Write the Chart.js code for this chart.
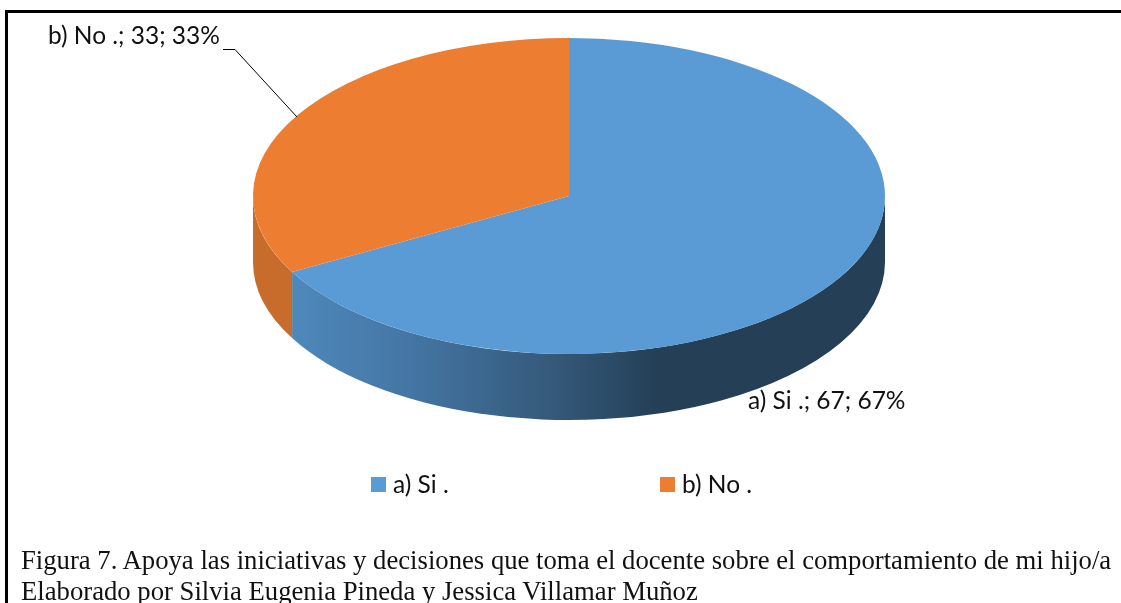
<!DOCTYPE html>
<html>
<head>
<meta charset="utf-8">
<title>Figura 7</title>
<script src="https://cdn.jsdelivr.net/npm/chart.js@4"></script>
<style>
  html, body { margin: 0; padding: 0; background: #fff; overflow: hidden; }
  #page { position: relative; width: 1121px; height: 603px; overflow: hidden; }
  #frameTop { position: absolute; left: 5px; top: 10px; right: 0; height: 3px; background: #000; }
  #frameLeft { position: absolute; left: 5px; top: 10px; bottom: 0; width: 3px; background: #000; }
  #pieChart { position: absolute; left: 0; top: 0; }
  #legend { position: absolute; left: 0; top: 0; font: 24.5px Lato, sans-serif; color: #111; }
  .legend-box { position: absolute; top: 477px; width: 15px; height: 15px; }
  .legend-text { position: absolute; top: 471px; line-height: 26px; white-space: pre; }
  .caption { position: absolute; left: 21px; font: 26.7px "Liberation Serif", serif; color: #111; white-space: pre; line-height: 28px; }
</style>
</head>
<body>
<div id="page">
  <canvas id="pieChart" width="1121" height="603"></canvas>
  <div id="frameTop"></div>
  <div id="frameLeft"></div>
  <div id="legend"></div>
  <div class="caption" style="top:546px">Figura 7. Apoya las iniciativas y decisiones que toma el docente sobre el comportamiento de mi hijo/a</div>
  <div class="caption" style="top:577px">Elaborado por Silvia Eugenia Pineda y Jessica Villamar Muñoz</div>
</div>
<script>
var labels = ['a) Si .', 'b) No .'];
var values = [67, 33];
var colors = ['#5b9bd5', '#ed7d31'];

var squash = 2;     // pie is drawn round, then stretched sideways
var depth = 66;     // height of the side wall

function stretch(ctx, cx) {
  ctx.translate(cx, 0);
  ctx.scale(squash, 1);
  ctx.translate(-cx, 0);
}

function sliceText(i) {
  return labels[i] + '; ' + values[i] + '; ' + values[i] + '%';
}

var pie3d = {
  id: 'pie3d',
  beforeDatasetsDraw: function (chart) {
    var ctx = chart.ctx;
    var arcs = chart.getDatasetMeta(0).data;
    var cx = arcs[0].x, cy = arcs[0].y, r = arcs[0].outerRadius;

    var blueWall = ctx.createLinearGradient(292, 0, 660, 0);
    blueWall.addColorStop(0, '#4e88bb');
    blueWall.addColorStop(0.3, '#4577a6');
    blueWall.addColorStop(0.72, '#345878');
    blueWall.addColorStop(1, '#243f56');
    var walls = [blueWall, '#c86c2b'];

    // only the part of each slice facing the viewer shows a wall
    arcs.forEach(function (arc, i) {
      var a0 = Math.max(arc.startAngle, 0);
      var a1 = Math.min(arc.endAngle, Math.PI);
      ctx.save();
      stretch(ctx, cx);
      ctx.beginPath();
      ctx.arc(cx, cy, r, a0, a1);
      ctx.arc(cx, cy + depth, r, a1, a0, true);
      ctx.closePath();
      ctx.restore();
      ctx.fillStyle = walls[i];
      ctx.fill();
    });

    ctx.save();
    stretch(ctx, cx);
  },
  afterDatasetsDraw: function (chart) {
    var ctx = chart.ctx;
    ctx.restore();

    ctx.save();
    ctx.font = '24.5px Lato, sans-serif';
    ctx.fillStyle = '#111';
    ctx.textBaseline = 'alphabetic';
    ctx.fillText(sliceText(0), 748, 409);
    ctx.fillText(sliceText(1), 48, 44);
    // leader line of the orange slice
    ctx.strokeStyle = '#000';
    ctx.lineWidth = 1;
    ctx.beginPath();
    ctx.moveTo(223, 49.5);
    ctx.lineTo(235, 49.5);
    ctx.lineTo(297, 117);
    ctx.stroke();
    ctx.restore();
  }
};

new Chart(document.getElementById('pieChart'), {
  type: 'pie',
  data: {
    labels: labels,
    datasets: [{
      data: values,
      backgroundColor: colors,
      borderWidth: 0,
      clip: false
    }]
  },
  options: {
    responsive: false,
    animation: false,
    layout: { padding: { left: 253, right: 236, top: 38, bottom: 249 } },
    plugins: { legend: { display: false }, tooltip: { enabled: false } }
  },
  plugins: [pie3d]
});

// legend goes in the page so the two entries can sit far apart
var legendEl = document.getElementById('legend');
var legendLeft = [371, 660];
labels.forEach(function (name, i) {
  var box = document.createElement('div');
  box.className = 'legend-box';
  box.style.left = legendLeft[i] + 'px';
  box.style.background = colors[i];
  var txt = document.createElement('div');
  txt.className = 'legend-text';
  txt.style.left = (legendLeft[i] + 22) + 'px';
  txt.textContent = name;
  legendEl.appendChild(box);
  legendEl.appendChild(txt);
});
</script>
</body>
</html>
